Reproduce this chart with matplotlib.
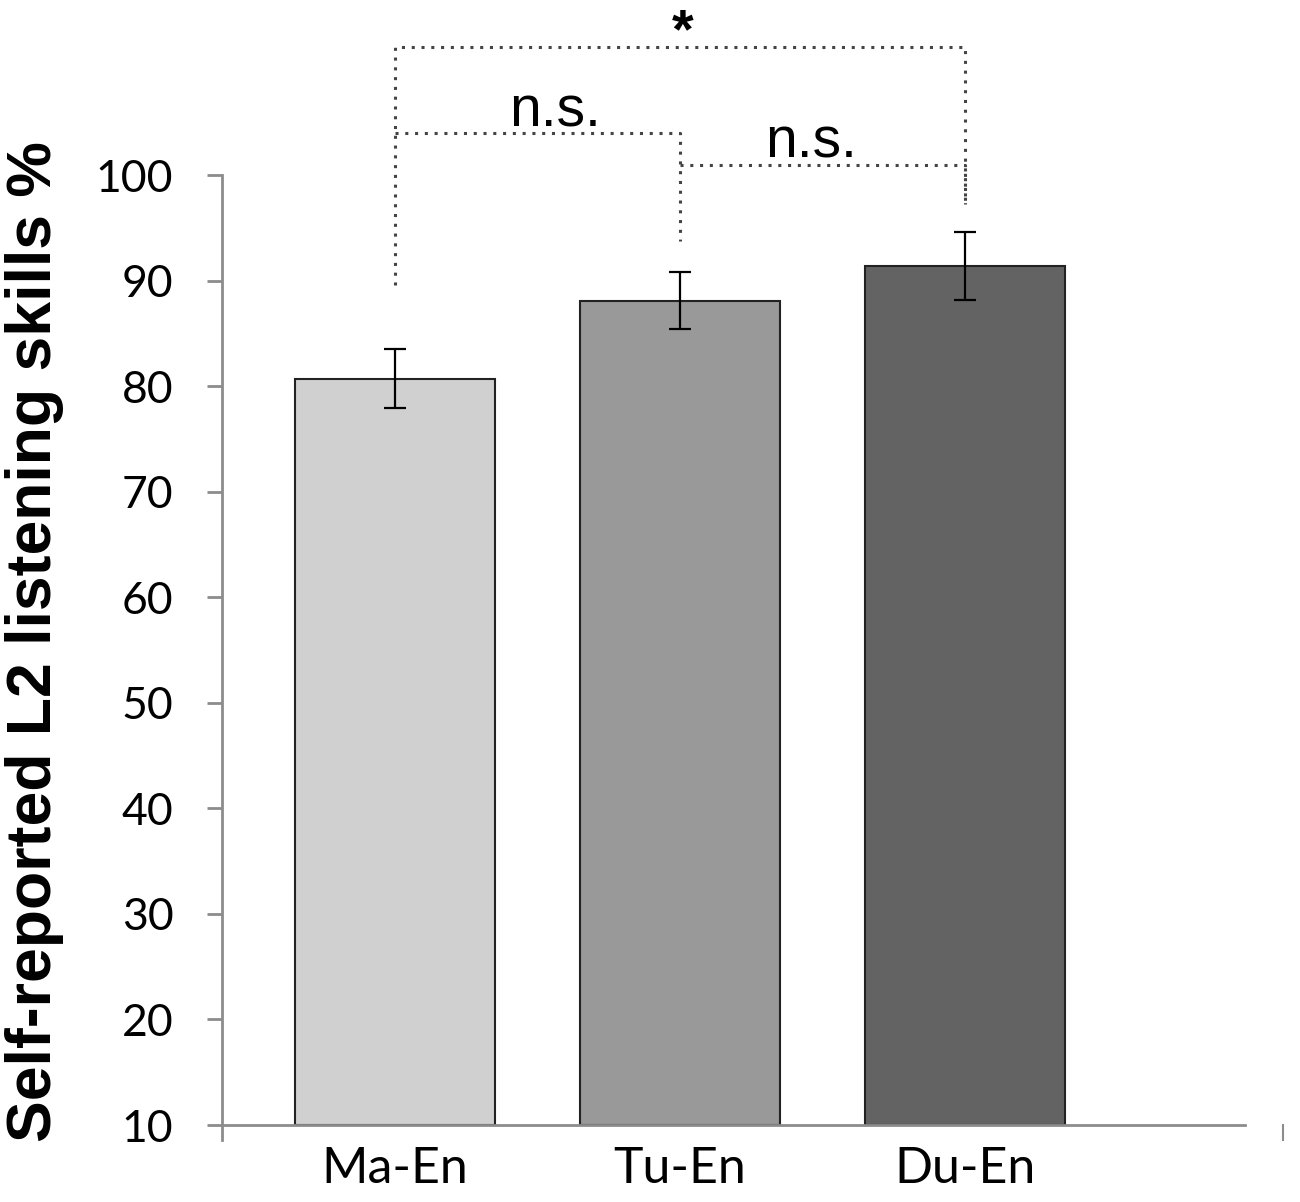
import matplotlib
matplotlib.use("Agg")
import matplotlib.pyplot as plt

# data
groups = ['Ma-En', 'Tu-En', 'Du-En']
means = [80.7, 88.1, 91.4]
errors = [2.8, 2.7, 3.2]
bar_colors = ['#d0d0d0', '#999999', '#636363']
y_ticks = [10, 20, 30, 40, 50, 60, 70, 80, 90, 100]

# significance brackets: (left group, right group, bracket level, left drop, right drop, label)
brackets = [
    (0, 2, 112.1, 89.6, 97.3, '*'),
    (0, 1, 104.0, 104.0, 93.7, 'n.s.'),
    (1, 2, 100.9, 100.9, 97.3, 'n.s.'),
]
# label positions (x in group units, y in data units)
label_x = [1.01, 0.56, 1.46]
label_y = [115.9, 104.6, 101.7]

W, H = 1300, 1202
fig = plt.figure(figsize=(W / 100, H / 100), dpi=100)
ax = fig.add_axes([222 / W, 1 - 1125 / H, (1245 - 222) / W, (1125 - 175) / H])

x = list(range(len(groups)))
ax.bar(x, [m - 10 for m in means], bottom=10, width=0.70, color=bar_colors,
       edgecolor='#222222', linewidth=1.5, zorder=2)
ax.errorbar(x, means, yerr=errors, fmt='none', ecolor='black', elinewidth=1.6,
            capsize=8, capthick=1.6, zorder=3)

ax.set_ylim(10, 100)
ax.set_xlim(-0.607, 2.982)
ax.set_yticks(y_ticks)
ax.set_yticklabels([str(t) for t in y_ticks], fontfamily='Lato', fontsize=32)
ax.set_xticks(x)
ax.set_xticklabels(groups, fontfamily='Lato', fontsize=36)

for side in ['top', 'right']:
    ax.spines[side].set_visible(False)
for side in ['left', 'bottom']:
    ax.spines[side].set_color('#8c8c8c')
    ax.spines[side].set_linewidth(2)
ax.tick_params(axis='y', length=11, width=2, color='#8c8c8c', pad=24)
ax.tick_params(axis='x', length=0, pad=15)

# small stray marks seen below the axis in the original
trans = ax.transAxes
ax.plot([0, 0], [0, -0.016], color='#8c8c8c', lw=2, transform=trans, clip_on=False)
ax.plot([(1283 - 222) / 1023] * 2, [0, -0.016], color='#8c8c8c', lw=1.5,
        transform=trans, clip_on=False)

# brackets
for (left, right, level, ldrop, rdrop, label), lx, ly in zip(brackets, label_x, label_y):
    ax.plot([left, left, right, right], [ldrop, level, level, rdrop],
            color='#444444', lw=2.2, linestyle=(0, (1, 2.2)), clip_on=False)
    if label == '*':
        ax.text(lx, ly, label, ha='center', va='top', fontsize=40,
                fontweight='bold', fontfamily='Liberation Sans', clip_on=False)
    else:
        ax.text(lx, ly, label, ha='center', va='baseline', fontsize=41,
                fontfamily='Liberation Sans', clip_on=False)

fig.text(35 / W, 1 - 642 / H, 'Self-reported L2 listening skills %', rotation=90,
         ha='center', va='center', fontsize=45, fontweight='bold',
         fontfamily='Liberation Sans')

fig.savefig('out.png', dpi=100)
